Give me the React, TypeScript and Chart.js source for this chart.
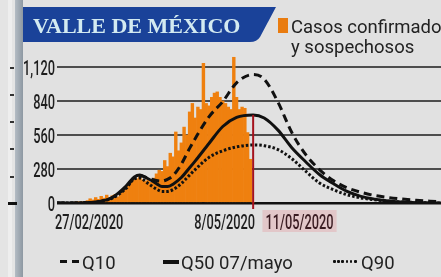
import React, { useEffect, useRef } from 'react';
import { Chart, registerables } from 'chart.js';

Chart.register(...registerables);

// ---- data ----
const startLabel = '27/02/2020';
const markerLabel = '8/05/2020';
const nextLabel = '11/05/2020';
const markerDay = 71; // 8/05/2020 (day 0 = 27/02/2020)
const nextDay = 74; // 11/05/2020
const lastDay = 139;
const yTicks = [0, 280, 560, 840, 1120];
const yMax = 1260;

// daily confirmed + suspected cases, day 0 .. day 71
const caseValues = [
  0, 0, 0, 0, 0, 0, 0, 2, 4, 6,
  8, 20, 35, 25, 45, 30, 55, 40, 65, 35, 60, 70, 50, 85, 100,
  120, 150, 185, 210, 200, 220, 190, 180, 195, 170, 205, 240, 270,
  260, 350, 300, 410, 380, 585, 430, 495, 625, 560, 750, 820, 700, 790, 770,
  1150, 820, 800, 870, 905, 915, 870, 840, 820, 790, 770, 1200, 870, 770, 790,
  780, 580, 360, 0,
];

const curveDays = [0, 5, 10, 15, 20, 25, 28, 30, 33, 36, 38, 40, 42, 45, 48, 50, 55, 60, 65, 71, 75, 80, 85, 90, 95, 100, 105, 110, 115, 120, 125, 130, 135, 139];
const q10 = [0, 0, 2, 10, 45, 130, 210, 225, 205, 185, 180, 195, 225, 320, 450, 530, 710, 835, 990, 1058, 1020, 830, 580, 400, 275, 185, 125, 88, 62, 45, 32, 22, 15, 12];
const q50 = [0, 0, 2, 10, 45, 140, 215, 230, 200, 160, 135, 135, 155, 210, 290, 345, 490, 630, 705, 725, 700, 600, 455, 340, 235, 160, 95, 55, 32, 16, 8, 3, 1, 0];
const q90 = [0, 0, 2, 10, 40, 120, 200, 205, 160, 115, 95, 95, 110, 160, 230, 275, 375, 430, 462, 478, 472, 440, 365, 262, 165, 110, 68, 42, 27, 15, 8, 4, 1, 0];

const AXIS_FONT = '500 20px Roboto, "Liberation Sans", sans-serif';
const CONDENSE = 0.64;

function condensedText(ctx: CanvasRenderingContext2D, text: string, x: number, y: number, align: CanvasTextAlign) {
  ctx.save();
  ctx.translate(x, y);
  ctx.scale(CONDENSE, 1);
  ctx.textAlign = align;
  ctx.textBaseline = 'alphabetic';
  ctx.fillText(text, 0, 0);
  ctx.restore();
}

const annotatePlugin = {
  id: 'annotate',
  afterDatasetsDraw(chart: any) {
    const { ctx, chartArea, scales } = chart;
    const mx = scales.x.getPixelForValue(markerDay);
    const idx = curveDays.indexOf(markerDay);
    const top = scales.y.getPixelForValue(q50[idx]);
    ctx.save();
    ctx.strokeStyle = '#a5121d';
    ctx.lineWidth = 2;
    ctx.beginPath();
    ctx.moveTo(mx, top);
    ctx.lineTo(mx, chartArea.bottom + 6);
    ctx.stroke();
    ctx.restore();
  },
  afterDraw(chart: any) {
    const { ctx, chartArea, scales } = chart;
    ctx.save();
    ctx.font = AXIS_FONT;
    ctx.fillStyle = '#1e1e1e';
    // y tick labels
    for (const t of scales.y.ticks) {
      const py = scales.y.getPixelForValue(t.value);
      condensedText(ctx, t.value.toLocaleString('en-US'), chartArea.left - 2, py + 8, 'right');
    }
    // x labels
    const base = chartArea.bottom + 26;
    condensedText(ctx, startLabel, scales.x.getPixelForValue(0) - 2, base, 'left');
    const mx = scales.x.getPixelForValue(markerDay);
    condensedText(ctx, markerLabel, mx + 2, base, 'right');
    const nx = scales.x.getPixelForValue(nextDay);
    const w = ctx.measureText(nextLabel).width * CONDENSE;
    ctx.fillStyle = '#e2c7c9';
    ctx.fillRect(nx + 1, chartArea.bottom + 7, w + 6, 22);
    ctx.fillStyle = '#3a1c22';
    condensedText(ctx, nextLabel, nx + 4, base, 'left');
    ctx.restore();
  },
};

function ChartCanvas() {
  const ref = useRef<HTMLCanvasElement | null>(null);
  useEffect(() => {
    if (!ref.current) return;
    const line = (data: number[], dash: number[]) => ({
      type: 'line' as const,
      data: curveDays.map((d, i) => ({ x: d, y: data[i] })),
      borderColor: '#111111',
      borderWidth: 3,
      borderDash: dash,
      pointRadius: 0,
      cubicInterpolationMode: 'monotone' as const,
      order: 1,
    });
    const chart = new Chart(ref.current, {
      type: 'bar',
      data: {
        datasets: [
          { ...line(q10, [8, 5]), label: 'Q10' },
          { ...line(q50, []), label: 'Q50 07/mayo' },
          { ...line(q90, [2.5, 2]), label: 'Q90' },
          {
            type: 'bar',
            label: 'Casos confirmados y sospechosos',
            data: caseValues.map((v, d) => ({ x: d, y: v })),
            backgroundColor: '#ef800f',
            borderWidth: 0,
            barPercentage: 1,
            categoryPercentage: 1,
            order: 10,
          } as any,
        ],
      },
      options: {
        responsive: false,
        animation: false,
        devicePixelRatio: 1,
        layout: { padding: { left: 57, right: 0, top: 50, bottom: 74 } },
        plugins: { legend: { display: false }, tooltip: { enabled: false } },
        scales: {
          x: { type: 'linear', min: 0, max: lastDay, offset: false, display: false },
          y: {
            min: 0,
            max: yMax,
            afterBuildTicks: (s: any) => {
              s.ticks = yTicks.map((v) => ({ value: v }));
            },
            ticks: { display: false },
            border: { display: false },
            grid: {
              drawTicks: false,
              color: (c: any) => (c.tick && c.tick.value === 0 ? '#111111' : '#4d4d4d'),
              lineWidth: (c: any) => (c.tick && c.tick.value === 0 ? 2.5 : 2),
            },
          },
        },
      } as any,
      plugins: [annotatePlugin],
    });
    return () => chart.destroy();
  }, []);
  return <canvas ref={ref} width={441} height={277} style={{ position: 'absolute', left: 0, top: 0, width: 441, height: 277 }} />;
}

const abs = (s: React.CSSProperties): React.CSSProperties => ({ position: 'absolute', ...s });
const legendText: React.CSSProperties = { fontFamily: 'Roboto, sans-serif', fontSize: 18.5, lineHeight: '18.5px', color: '#222', whiteSpace: 'nowrap' };
const leftMarks = [68, 95, 122, 149, 177];

export default function App() {
  return (
    <div style={{ position: 'fixed', left: 0, top: 0, width: 441, height: 277, overflow: 'hidden', background: '#e1e1e1' }}>
      <div style={abs({ left: 0, top: 0, width: 15, height: 277, background: '#e4e4e4' })} />
      <div style={abs({ left: 8, top: 0, width: 4, height: 277, background: '#eeeeee' })} />
      <div style={abs({ left: 15, top: 0, width: 8, height: 277, background: 'linear-gradient(90deg, #b4bcc4, #8d98a2)' })} />
      {leftMarks.map((y) => (
        <div key={y} style={abs({ left: 10, top: y - 1, width: 4, height: 2, background: '#333' })} />
      ))}
      <div style={abs({ left: 8, top: 202, width: 9, height: 3, background: '#111' })} />
      <ChartCanvas />
      <svg width={441} height={50} style={{ position: 'absolute', left: 0, top: 0 }}>
        <path d="M23,7 L276,7 Q268,22 260,37 Q257,42 250,42 L23,42 Z" fill="#1a4299" />
      </svg>
      <div style={abs({ left: 33, top: 14.6, fontFamily: '"Liberation Serif", serif', fontWeight: 700, fontSize: 22, lineHeight: '22px', color: '#d3eaf1', whiteSpace: 'nowrap' })}>
        VALLE DE MÉXICO
      </div>
      <div style={abs({ left: 278, top: 18, width: 10, height: 15, background: '#e97c10' })} />
      <div style={abs({ left: 291, top: 16.7, ...legendText, lineHeight: '20px' })}>
        Casos confirmados
        <br />
        y sospechosos
      </div>
      {/* bottom legend */}
      <div style={abs({ left: 60, top: 260, width: 7, height: 3, background: '#111' })} />
      <div style={abs({ left: 72, top: 260, width: 7, height: 3, background: '#111' })} />
      <div style={abs({ left: 82, top: 254.4, ...legendText })}>Q10</div>
      <div style={abs({ left: 163, top: 260, width: 16, height: 3.5, background: '#111' })} />
      <div style={abs({ left: 181, top: 254.4, ...legendText })}>Q50 07/mayo</div>
      {[0, 1, 2, 3, 4, 5].map((i) => (
        <div key={i} style={abs({ left: 333 + i * 4.2, top: 260, width: 2.5, height: 2.5, background: '#111', borderRadius: 1 })} />
      ))}
      <div style={abs({ left: 361, top: 254.4, ...legendText })}>Q90</div>
    </div>
  );
}
